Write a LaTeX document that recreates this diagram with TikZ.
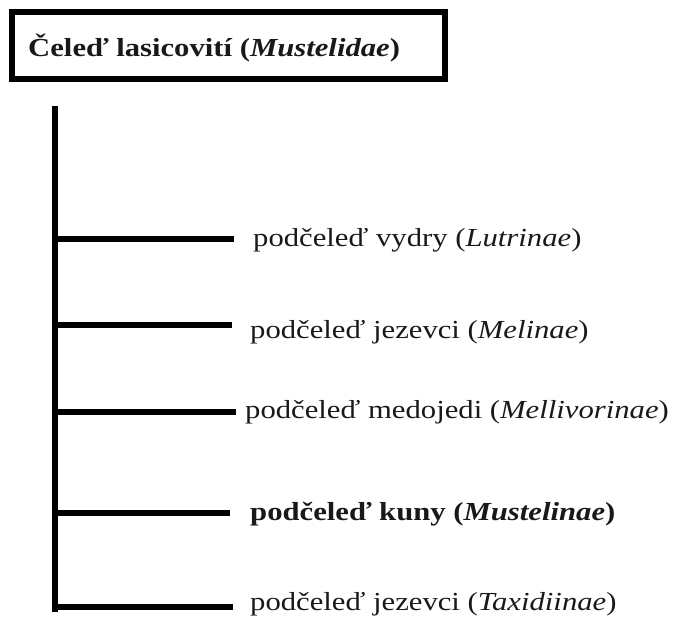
\documentclass[tikz,border=0pt]{standalone}
\usepackage{fontspec}
\setmainfont[FakeStretch=1.18]{Liberation Serif}
\begin{document}
\begin{tikzpicture}[x=1pt,y=-1pt,
  thickline/.style={line width=6pt, black},
  titlebox/.style={draw=black, line width=6pt},
  lbl/.style={anchor=west, inner sep=0pt, font=\fontsize{26}{30}\selectfont, text=black!90}]
\useasboundingbox (0,0) rectangle (674,628);
% title box
\draw[titlebox] (11.5,12.5) rectangle (445,79);
\node[lbl, font=\fontsize{26}{30}\selectfont\bfseries] (title) at (28,48) {Čeleď lasicovití (\textit{Mustelidae})};
% trunk
\coordinate (ttop) at (55,106);
\coordinate (tbot) at (55,612);
\draw[thickline] (ttop) -- (tbot);
% branches
\coordinate (s1) at (55,239);  \coordinate (e1) at (234,239);
\coordinate (s2) at (55,325);  \coordinate (e2) at (232,325);
\coordinate (s3) at (55,412);  \coordinate (e3) at (236,412);
\coordinate (s4) at (55,513);  \coordinate (e4) at (230,513);
\coordinate (s5) at (55,607);  \coordinate (e5) at (233,607);
\draw[thickline] (s1) -- (e1);
\draw[thickline] (s2) -- (e2);
\draw[thickline] (s3) -- (e3);
\draw[thickline] (s4) -- (e4);
\draw[thickline] (s5) -- (e5);
% labels
\node[lbl] (n1) at (253,240) {podčeleď vydry (\textit{Lutrinae})};
\node[lbl] (n2) at (250,332) {podčeleď jezevci (\textit{Melinae})};
\node[lbl] (n3) at (245,412) {podčeleď medojedi (\textit{Mellivorinae})};
\node[lbl, font=\fontsize{26}{30}\selectfont\bfseries] (n4) at (250,514) {podčeleď kuny (\textit{Mustelinae})};
\node[lbl] (n5) at (250,604) {podčeleď jezevci (\textit{Taxidiinae})};
\end{tikzpicture}
\end{document}
